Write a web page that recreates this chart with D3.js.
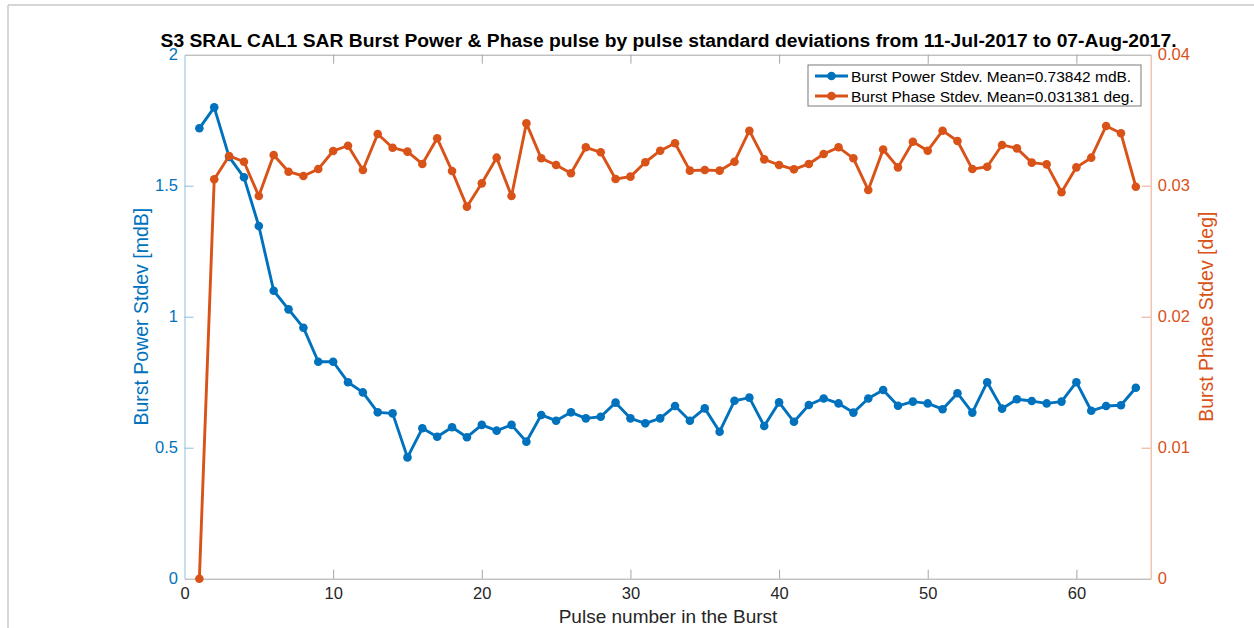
<!DOCTYPE html>
<html>
<head>
<meta charset="utf-8">
<script src="https://cdn.jsdelivr.net/npm/d3@7/dist/d3.min.js"></script>
<style>
  body { margin: 0; background: #fff; }
  svg { display: block; font-family: "Liberation Sans", Arial, sans-serif; }
</style>
</head>
<body>
<svg id="chart" width="1254" height="628"></svg>
<script>
// pulse index 1..64
const pulses = d3.range(1, 65);

// burst power stdev [mdB], left axis
const powerStd = [
  1.719, 1.799, 1.61, 1.532, 1.346, 1.099, 1.028, 0.958, 0.828, 0.828,
  0.750, 0.711, 0.635, 0.631, 0.463, 0.574, 0.542, 0.578, 0.540, 0.587,
  0.565, 0.587, 0.523, 0.625, 0.603, 0.635, 0.612, 0.618, 0.672, 0.612,
  0.593, 0.612, 0.659, 0.603, 0.650, 0.561, 0.679, 0.691, 0.583, 0.673,
  0.599, 0.663, 0.688, 0.669, 0.634, 0.688, 0.720, 0.660, 0.676, 0.669,
  0.647, 0.708, 0.634, 0.750, 0.649, 0.685, 0.678, 0.669, 0.676, 0.750,
  0.641, 0.659, 0.662, 0.729
];

// burst phase stdev [deg], right axis
const phaseStd = [
  0.0000, 0.03049, 0.03227, 0.03183, 0.02921, 0.03234, 0.03107, 0.03074, 0.03127, 0.03265,
  0.03305, 0.03120, 0.03395, 0.03290, 0.03260, 0.03166, 0.03362, 0.03112, 0.02840, 0.03018,
  0.03214, 0.02921, 0.03476, 0.03209, 0.03158, 0.03095, 0.03293, 0.03255, 0.03051, 0.03069,
  0.03179, 0.03267, 0.03324, 0.03115, 0.03120, 0.03115, 0.03183, 0.03420, 0.03201, 0.03158,
  0.03125, 0.03166, 0.03242, 0.03293, 0.03209, 0.02967, 0.03276, 0.03140, 0.03336, 0.03267,
  0.03420, 0.03341, 0.03127, 0.03145, 0.03311, 0.03285, 0.03176, 0.03163, 0.02950, 0.03140,
  0.03214, 0.03456, 0.03400, 0.02992
];

const xTicks = [0, 10, 20, 30, 40, 50, 60];
const yLeftTicks = [0, 0.5, 1, 1.5, 2];
const yRightTicks = [0, 0.01, 0.02, 0.03, 0.04];

const titleText = "S3 SRAL CAL1 SAR Burst Power & Phase pulse by pulse standard deviations from 11-Jul-2017 to 07-Aug-2017.";
const xLabel = "Pulse number in the Burst";
const yLeftLabel = "Burst Power Stdev [mdB]";
const yRightLabel = "Burst Phase Stdev [deg]";
const legendLabels = ["Burst Power Stdev. Mean=0.73842 mdB.", "Burst Phase Stdev. Mean=0.031381 deg."];

const blue = "#0072BD";
const orange = "#D95319";

const svg = d3.select("#chart");

// figure frame lines
svg.append("line").attr("x1", 8).attr("y1", 5).attr("x2", 1254).attr("y2", 5)
  .style("stroke", "#c8c8c8").style("stroke-width", 1.5);
svg.append("line").attr("x1", 8).attr("y1", 5).attr("x2", 8).attr("y2", 628)
  .style("stroke", "#c8c8c8").style("stroke-width", 1.5);

const axLeft = 184.5, axRight = 1150.7, axTop = 54.7, axBottom = 578.7;

const x = d3.scaleLinear().domain([0, 65]).range([axLeft, axRight]);
const yL = d3.scaleLinear().domain([0, 2]).range([axBottom, axTop]);
const yR = d3.scaleLinear().domain([0, 0.04]).range([axBottom, axTop]);

function styleAxis(g, color, lineColor) {
  g.select(".domain").style("stroke", lineColor);
  g.selectAll(".tick line").style("stroke", lineColor);
  g.selectAll(".tick text").style("fill", color).style("font-size", "16.5px")
    .style("font-family", "Liberation Sans, Arial, sans-serif");
}

// top axis (ticks only)
svg.append("g").attr("transform", `translate(0,${axTop})`)
  .call(d3.axisTop(x).tickValues(xTicks.slice(1)).tickSize(-9).tickSizeOuter(0).tickFormat(""))
  .call(g => styleAxis(g, "#262626", "#a6a6a6"));

// bottom axis
svg.append("g").attr("transform", `translate(0,${axBottom})`)
  .call(d3.axisBottom(x).tickValues(xTicks).tickSize(-9).tickSizeOuter(0).tickPadding(9).tickFormat(d3.format("d")))
  .call(g => styleAxis(g, "#262626", "#a6a6a6"))
  .call(g => g.selectAll(".tick").filter(d => d === 0).select("line").remove());

// left axis
svg.append("g").attr("transform", `translate(${axLeft},0)`)
  .call(d3.axisLeft(yL).tickValues(yLeftTicks).tickSize(-9).tickSizeOuter(0).tickPadding(6.5).tickFormat(d => String(d)))
  .call(g => styleAxis(g, blue, "#8fbde0"))
  .call(g => g.selectAll(".tick").filter(d => d === 0 || d === 2).select("line").remove());

// right axis
svg.append("g").attr("transform", `translate(${axRight},0)`)
  .call(d3.axisRight(yR).tickValues(yRightTicks).tickSize(-9).tickSizeOuter(0).tickPadding(7).tickFormat(d => String(d)))
  .call(g => styleAxis(g, orange, "#eba98c"))
  .call(g => g.selectAll(".tick").filter(d => d === 0 || d === 0.04).select("line").remove());

// series
const lineL = d3.line().x((d, i) => x(pulses[i])).y(d => yL(d));
const lineR = d3.line().x((d, i) => x(pulses[i])).y(d => yR(d));

svg.append("path").datum(powerStd).attr("d", lineL)
  .style("fill", "none").style("stroke", blue).style("stroke-width", 2.9).style("stroke-linejoin", "round");
svg.append("g").selectAll("circle").data(powerStd).join("circle")
  .attr("cx", (d, i) => x(pulses[i])).attr("cy", d => yL(d)).attr("r", 4.3)
  .style("fill", blue);

svg.append("path").datum(phaseStd).attr("d", lineR)
  .style("fill", "none").style("stroke", orange).style("stroke-width", 2.9).style("stroke-linejoin", "round");
svg.append("g").selectAll("circle").data(phaseStd).join("circle")
  .attr("cx", (d, i) => x(pulses[i])).attr("cy", d => yR(d)).attr("r", 4.3)
  .style("fill", orange);

// title
svg.append("text").attr("x", (axLeft + axRight) / 2 + 1).attr("y", 47)
  .attr("text-anchor", "middle")
  .attr("textLength", 1016).attr("lengthAdjust", "spacingAndGlyphs")
  .style("font-weight", "bold").style("font-size", "18px").style("fill", "#000")
  .text(titleText);

// axis labels
svg.append("text").attr("x", 668).attr("y", 623).attr("text-anchor", "middle")
  .style("font-size", "19px").style("fill", "#262626").text(xLabel);

svg.append("text").attr("transform", `translate(148,${(axTop + axBottom) / 2}) rotate(-90)`)
  .attr("text-anchor", "middle")
  .style("font-size", "19.5px").style("fill", blue).text(yLeftLabel);

svg.append("text").attr("transform", `translate(1213,${(axTop + axBottom) / 2}) rotate(-90)`)
  .attr("text-anchor", "middle")
  .style("font-size", "19.5px").style("fill", orange).text(yRightLabel);

// legend
const legend = svg.append("g");
legend.append("rect").attr("x", 808).attr("y", 65).attr("width", 333).attr("height", 41)
  .style("fill", "#fff").style("stroke", "#7a7a7a").style("stroke-width", 1);
[blue, orange].forEach((c, i) => {
  const ly = 76 + i * 20;
  legend.append("line").attr("x1", 815).attr("x2", 848).attr("y1", ly).attr("y2", ly)
    .style("stroke", c).style("stroke-width", 2.9);
  legend.append("circle").attr("cx", 831.5).attr("cy", ly).attr("r", 4.3).style("fill", c);
  legend.append("text").attr("x", 851).attr("y", ly + 5.5)
    .style("font-size", "15.5px").style("fill", "#000").text(legendLabels[i]);
});
</script>
</body>
</html>
